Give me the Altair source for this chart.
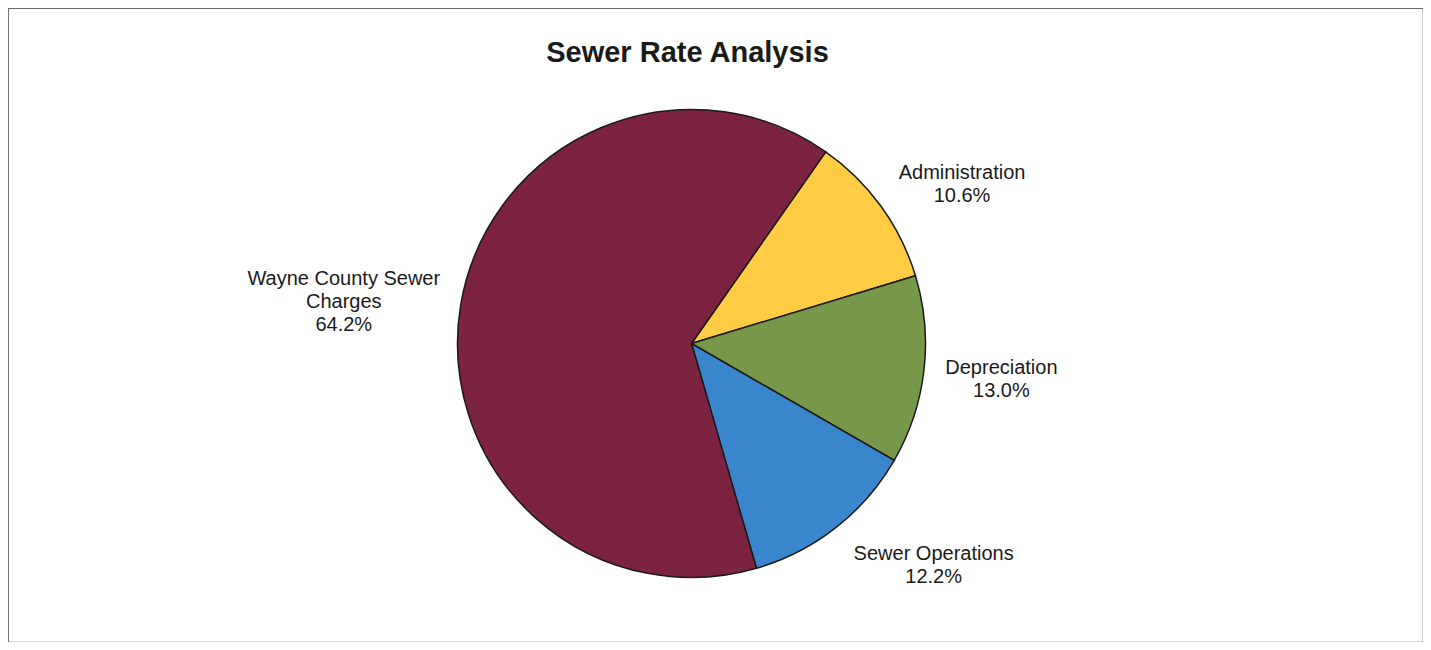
import math
import altair as alt
import pandas as pd

# ---- data ----
categories = ["Administration", "Depreciation", "Sewer Operations", "Wayne County Sewer Charges"]
shares = [10.6, 13.0, 12.2, 64.2]
labels = ["Administration\n10.6%", "Depreciation\n13.0%", "Sewer Operations\n12.2%",
          "Wayne County Sewer\nCharges\n64.2%"]
colors = ["#FFCC44", "#77974A", "#3A86CC", "#7C2341"]

df = pd.DataFrame({"category": categories, "share": shares, "label": labels,
                   "order": list(range(len(categories)))})

# ---- layout / style ----
START = math.radians(35)
theta_scale = alt.Scale(domain=[0, 100], range=[START, START + 2 * math.pi])
CX, CY = 683.5, 335.5
FONT = "Liberation Sans"

arcs = alt.Chart(df).mark_arc(outerRadius=234, stroke="#1a1a1a", strokeWidth=1.5).encode(
    theta=alt.Theta("share:Q", stack=True, scale=theta_scale),
    color=alt.Color("category:N", scale=alt.Scale(domain=categories, range=colors), legend=None),
    order=alt.Order("order:Q"),
    x=alt.value(CX), y=alt.value(CY),
)

base = alt.Chart(df).transform_window(
    cum="sum(share)", sort=[alt.SortField("order")]
).transform_calculate(mid="datum.cum - datum.share / 2")

nudges = {
    "Administration": (13, 16),
    "Depreciation": (-6, -12),
    "Sewer Operations": (46, -40),
    "Wayne County Sewer Charges": (-34, -12),
}

layers = [arcs]
for cat, (ddx, ddy) in nudges.items():
    layers.append(
        base.transform_filter(alt.datum.category == cat).mark_text(
            radius=318, dx=ddx, dy=ddy, fontSize=20, font=FONT, lineBreak="\n",
            lineHeight=23, align="center", baseline="middle", color="#1a1a1a",
        ).encode(
            theta=alt.Theta("mid:Q", scale=theta_scale),
            text="label:N",
            x=alt.value(CX), y=alt.value(CY),
        )
    )

chart = alt.layer(*layers).properties(
    width=1415, height=634, padding=0,
    autosize=alt.AutoSizeParams(type="fit", contains="padding"),
    background="white",
    title=alt.TitleParams("Sewer Rate Analysis", fontSize=29, font=FONT, fontWeight="bold",
                          anchor="middle", dx=-28, dy=28, offset=-55, baseline="alphabetic",
                          color="#1a1a1a"),
).configure_view(stroke="#666666", strokeWidth=1.2)

chart.save("out.html", embed_options={"renderer": "svg", "actions": False})
